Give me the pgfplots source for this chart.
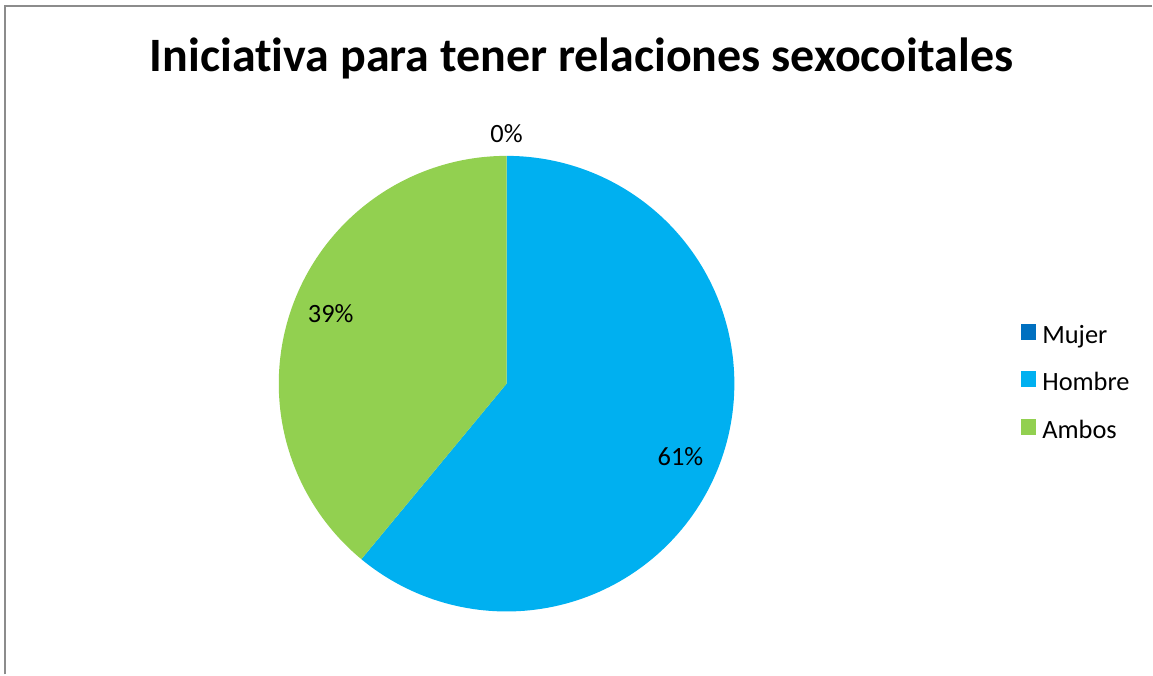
\documentclass[border=0pt]{standalone}
\usepackage{pgfplots}
\pgfplotsset{compat=1.18}
\usepackage{pgfplotstable}
\usepackage{fontspec}
\setmainfont[Ligatures=NoCommon]{Carlito}
\definecolor{mujer}{HTML}{0070C0}
\definecolor{hombre}{HTML}{00B0F0}
\definecolor{ambos}{HTML}{92D050}
\definecolor{frame}{HTML}{8C8C8C}

\pgfplotstableread{
label value
Mujer 0
Hombre 61
Ambos 39
}\piedata
\pgfplotstablegetelem{0}{value}\of\piedata \edef\vM{\pgfplotsretval}
\pgfplotstablegetelem{1}{value}\of\piedata \edef\vH{\pgfplotsretval}
\pgfplotstablegetelem{2}{value}\of\piedata \edef\vA{\pgfplotsretval}
\pgfmathsetmacro\aM{90-3.6*\vM}
\pgfmathsetmacro\aH{\aM-3.6*\vH}
\pgfmathsetmacro\aA{\aH-3.6*\vA}

\newcommand\labfont{\fontsize{13.2}{16}\selectfont}

\begin{document}
\begin{tikzpicture}
\begin{axis}[
  scale only axis, width=576.5pt, height=337.5pt,
  xmin=0, xmax=1153, ymin=0, ymax=675,
  hide axis, clip=false,
  legend style={at={(axis cs:1021,354)}, anchor=north west, draw=none, fill=none,
    font=\labfont, row sep=9.2pt, inner sep=0pt},
  legend cell align=left,
  legend image code/.code={\fill[#1, draw=none] (0pt,-2pt) rectangle (7.5pt,6pt); \path (8.9pt,0pt);},
]
\path (axis cs:0,0) rectangle (axis cs:1153,675);
\draw[frame, line width=1pt] (axis cs:5.5,0) -- (axis cs:5.5,669) -- (axis cs:1153,669);

\addlegendimage{fill=mujer, draw=none}
\addlegendimage{fill=hombre, draw=none}
\addlegendimage{fill=ambos, draw=none}
\legend{Mujer,Hombre,Ambos}

\addplot[fill=hombre, draw=none, domain=\aH:\aM, samples=150, variable=\t, forget plot]
  ({507+228*cos(\t)},{291+228*sin(\t)}) -- (axis cs:507,291) -- cycle;
\addplot[fill=ambos, draw=none, domain=\aA:\aH, samples=120, variable=\t, forget plot]
  ({507+228*cos(\t)},{291+228*sin(\t)}) -- (axis cs:507,291) -- cycle;

\node[font=\fontsize{24}{28}\selectfont\bfseries, anchor=base] at (axis cs:582,603)
  {Iniciativa para tener relaciones sexocoitales};
\node[font=\labfont, anchor=base] at (axis cs:507,532) {\vM\%};
\node[font=\labfont, anchor=base] at (axis cs:331,352) {\vA\%};
\node[font=\labfont, anchor=base] at (axis cs:681,209) {\vH\%};
\end{axis}
\end{tikzpicture}
\end{document}
